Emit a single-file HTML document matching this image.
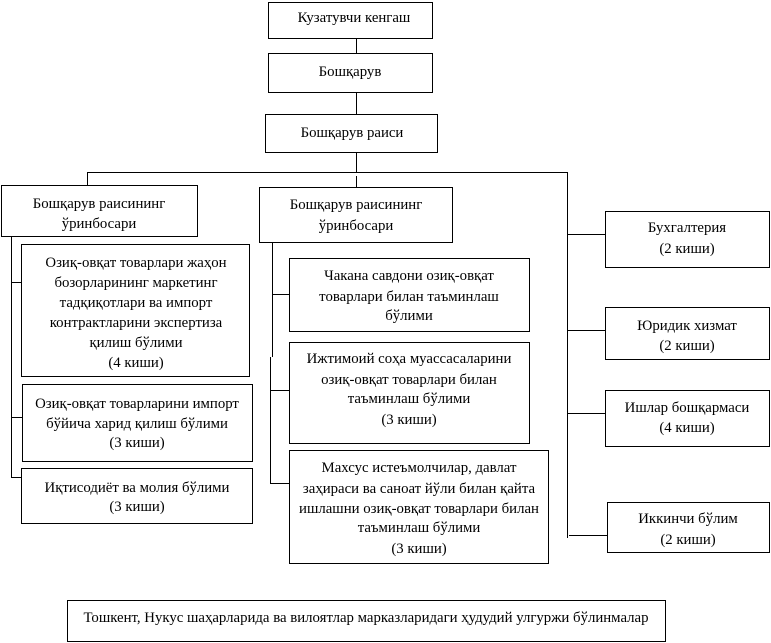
<!DOCTYPE html>
<html>
<head>
<meta charset="utf-8">
<style>
html,body{margin:0;padding:0;background:#fff;}
svg{display:block;}
text{font-family:"Liberation Serif","DejaVu Serif",serif;font-size:14.8px;fill:#000;}
</style>
</head>
<body>
<svg width="771" height="643" viewBox="0 0 771 643" xmlns="http://www.w3.org/2000/svg">
<g fill="none" stroke="#000" stroke-width="1.2" shape-rendering="crispEdges">
<!-- boxes -->
<rect x="268.5" y="2.5" width="164" height="36"/>
<rect x="268.5" y="53.5" width="164" height="39"/>
<rect x="265.5" y="114.5" width="172" height="38"/>
<rect x="1.5" y="185.5" width="196" height="51"/>
<rect x="259.5" y="187.5" width="193" height="55"/>
<rect x="21.5" y="244.5" width="228" height="132"/>
<rect x="22.5" y="384.5" width="230" height="77"/>
<rect x="21.5" y="468.5" width="231" height="55"/>
<rect x="289.5" y="258.5" width="240" height="73"/>
<rect x="289.5" y="342.5" width="240" height="101"/>
<rect x="289.5" y="450.5" width="259" height="113"/>
<rect x="605.5" y="211.5" width="164" height="56"/>
<rect x="605.5" y="307.5" width="164" height="52"/>
<rect x="605.5" y="390.5" width="164" height="56"/>
<rect x="607.5" y="502.5" width="162" height="50"/>
<rect x="67.5" y="600.5" width="598" height="41"/>
<!-- connectors -->
<path d="M356.5 38 V53 M356.5 92 V114 M356.5 152 V172 M356.5 176 V187"/>
<path d="M87.5 172.5 H567.5 M87.5 172 V185 M567.5 172 V538"/>
<path d="M567 234.5 H605 M567 330.5 H605 M567 413.5 H605 M569 535.5 H607"/>
<path d="M11.5 236 V477.5 M11 282.5 H21 M11 417.5 H22 M11 477.5 H21"/>
<path d="M272.5 242 V357 M270.5 357 V483.5 M272 294.5 H289 M270 390.5 H289 M270 483.5 H289"/>
</g>
<g text-anchor="middle">
<text x="354" y="22">Кузатувчи кенгаш</text>
<text x="350" y="76">Бошқарув</text>
<text x="352" y="137">Бошқарув раиси</text>

<text x="99" y="208">Бошқарув раисининг</text>
<text x="99" y="228">ўринбосари</text>

<text x="356" y="209">Бошқарув раисининг</text>
<text x="356" y="230">ўринбосари</text>

<text x="136" y="267">Озиқ-овқат товарлари жаҳон</text>
<text x="136" y="287">бозорларининг маркетинг</text>
<text x="136" y="307">тадқиқотлари ва импорт</text>
<text x="136" y="327">контрактларини экспертиза</text>
<text x="136" y="347">қилиш бўлими</text>
<text x="136" y="367">(4 киши)</text>

<text x="137" y="408">Озиқ-овқат товарларини импорт</text>
<text x="137" y="428">бўйича харид қилиш бўлими</text>
<text x="137" y="447">(3 киши)</text>

<text x="137" y="492">Иқтисодиёт ва молия бўлими</text>
<text x="137" y="511">(3 киши)</text>

<text x="409" y="280">Чакана савдони озиқ-овқат</text>
<text x="409" y="301">товарлари билан таъминлаш</text>
<text x="409" y="320">бўлими</text>

<text x="409" y="363">Ижтимоий соҳа муассасаларини</text>
<text x="409" y="384">озиқ-овқат товарлари билан</text>
<text x="409" y="403">таъминлаш бўлими</text>
<text x="409" y="424">(3 киши)</text>

<text x="419" y="472">Махсус истеъмолчилар, давлат</text>
<text x="419" y="493">заҳираси ва саноат йўли билан қайта</text>
<text x="419" y="513">ишлашни озиқ-овқат товарлари билан</text>
<text x="419" y="532">таъминлаш бўлими</text>
<text x="419" y="553">(3 киши)</text>

<text x="687" y="232">Бухгалтерия</text>
<text x="687" y="253">(2 киши)</text>

<text x="687" y="330">Юридик хизмат</text>
<text x="687" y="350">(2 киши)</text>

<text x="687" y="412">Ишлар бошқармаси</text>
<text x="687" y="432">(4 киши)</text>

<text x="688" y="523">Иккинчи бўлим</text>
<text x="688" y="544">(2 киши)</text>

<text x="366" y="622">Тошкент, Нукус шаҳарларида ва вилоятлар марказларидаги ҳудудий улгуржи бўлинмалар</text>
</g>
</svg>
</body>
</html>
